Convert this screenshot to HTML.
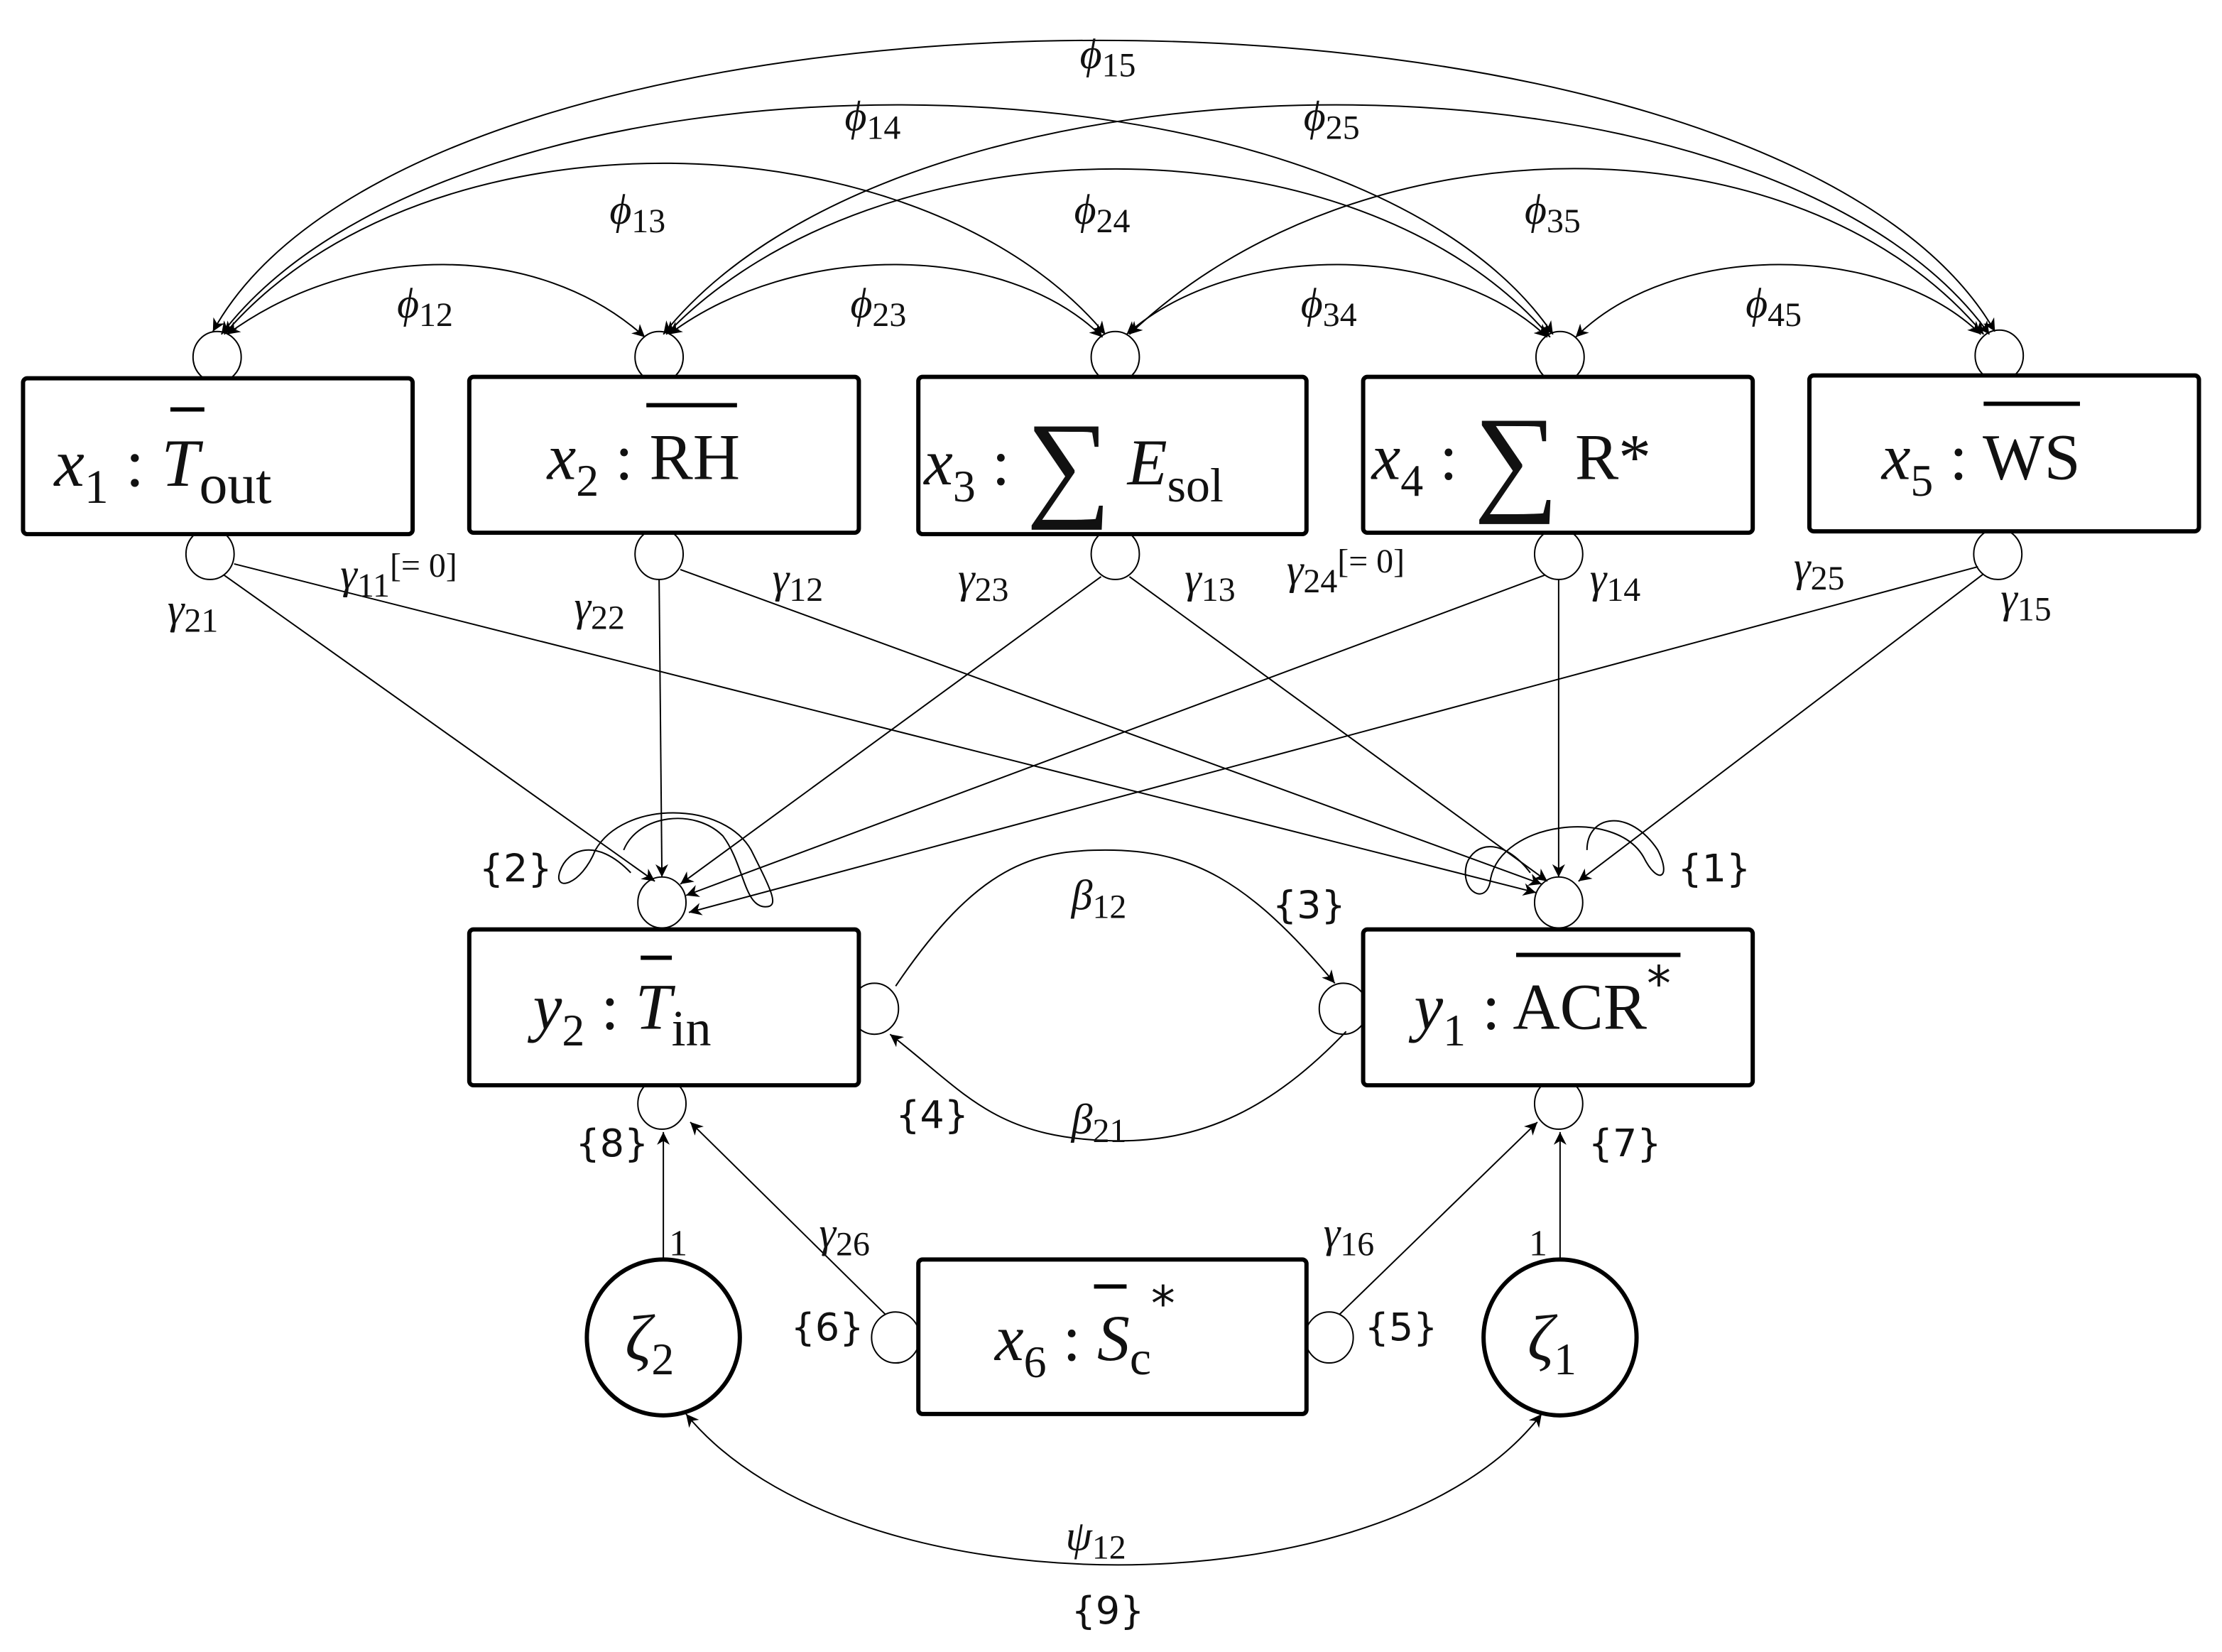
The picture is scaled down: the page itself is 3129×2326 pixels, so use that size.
<!DOCTYPE html>
<html><head><meta charset="utf-8"><style>
html,body{margin:0;padding:0;background:#fff}
svg{display:block}
text{font-family:"Liberation Serif",serif;fill:#111}
.it{font-style:italic}
.b{font-family:"DejaVu Sans","Liberation Sans",sans-serif}
</style></head><body>
<svg width="3129" height="2326" viewBox="0 0 1568 1166" xmlns="http://www.w3.org/2000/svg">
<defs>
<marker id="a" viewBox="0 0 10 10" refX="10" refY="5" markerWidth="9" markerHeight="9" markerUnits="userSpaceOnUse" orient="auto-start-reverse">
<path d="M0,0 L10,5 L0,10 L3,5 z" fill="#000"/></marker>
</defs>
<g fill="none" stroke="#000" stroke-width="1">
<path d="M160,236 C250,170 380,170 455,238" marker-start="url(#a)" marker-end="url(#a)"/>
<path d="M158,236 C300,70 650,80 780,236" marker-start="url(#a)" marker-end="url(#a)"/>
<path d="M156,236 C320,20 950,20 1096,236" marker-start="url(#a)" marker-end="url(#a)"/>
<path d="M150,234 C300,-40 1250,-40 1408,234" marker-start="url(#a)" marker-end="url(#a)"/>
<path d="M472,236 C560,170 710,170 778,238" marker-start="url(#a)" marker-end="url(#a)"/>
<path d="M470,236 C620,80 960,80 1094,238" marker-start="url(#a)" marker-end="url(#a)"/>
<path d="M468,236 C640,20 1250,20 1404,236" marker-start="url(#a)" marker-end="url(#a)"/>
<path d="M795,236 C870,170 1020,170 1092,238" marker-start="url(#a)" marker-end="url(#a)"/>
<path d="M797,236 C960,80 1270,80 1400,236" marker-start="url(#a)" marker-end="url(#a)"/>
<path d="M1112,238 C1180,170 1330,170 1398,236" marker-start="url(#a)" marker-end="url(#a)"/>
<line x1="158" y1="406" x2="462" y2="622" marker-end="url(#a)"/>
<line x1="165" y1="398" x2="1084" y2="630" marker-end="url(#a)"/>
<line x1="465" y1="409" x2="467" y2="619" marker-end="url(#a)"/>
<line x1="480" y1="402" x2="1088" y2="624" marker-end="url(#a)"/>
<line x1="777" y1="407" x2="480" y2="624" marker-end="url(#a)"/>
<line x1="797" y1="407" x2="1092" y2="622" marker-end="url(#a)"/>
<line x1="1090" y1="406" x2="484" y2="632" marker-end="url(#a)"/>
<line x1="1100" y1="409" x2="1100" y2="619" marker-end="url(#a)"/>
<line x1="1396" y1="400" x2="486" y2="644" marker-end="url(#a)"/>
<line x1="1400" y1="405" x2="1114" y2="622" marker-end="url(#a)"/>
<path d="M445,616 C420,590 400,600 395,615 C390,630 410,625 420,600 C440,565 510,565 530,600 C545,630 550,640 540,640 C525,640 525,610 510,590 C490,570 450,575 440,600"/>
<path d="M1080,616 C1060,590 1040,595 1035,610 C1030,630 1050,640 1052,620 C1060,580 1140,570 1160,605 C1170,625 1180,620 1170,600 C1150,570 1120,575 1120,600"/>
<path d="M632,696 C690,610 730,600 780,600 C840,600 880,620 942,694" marker-end="url(#a)"/>
<path d="M950,728 C900,780 850,808 780,805 C700,802 680,770 628,730" marker-end="url(#a)"/>
<line x1="468" y1="889" x2="468" y2="799" marker-end="url(#a)"/>
<line x1="1101" y1="889" x2="1101" y2="799" marker-end="url(#a)"/>
<line x1="625" y1="928" x2="487" y2="792" marker-end="url(#a)"/>
<line x1="945" y1="928" x2="1085" y2="792" marker-end="url(#a)"/>
<path d="M484,998 C600,1140 980,1140 1088,998" marker-start="url(#a)" marker-end="url(#a)"/>
<ellipse cx="153" cy="252" rx="17" ry="18"/><ellipse cx="465" cy="252" rx="17" ry="18"/>
<ellipse cx="787" cy="252" rx="17" ry="18"/><ellipse cx="1101" cy="252" rx="17" ry="18"/>
<ellipse cx="1411" cy="251" rx="17" ry="18"/>
<ellipse cx="148" cy="391" rx="17" ry="18"/><ellipse cx="465" cy="391" rx="17" ry="18"/>
<ellipse cx="787" cy="391" rx="17" ry="18"/><ellipse cx="1100" cy="391" rx="17" ry="18"/>
<ellipse cx="1410" cy="391" rx="17" ry="18"/>
<ellipse cx="467" cy="637" rx="17" ry="18"/><ellipse cx="1100" cy="637" rx="17" ry="18"/>
<ellipse cx="617" cy="712" rx="17" ry="18"/><ellipse cx="948" cy="712" rx="17" ry="18"/>
<ellipse cx="467" cy="779" rx="17" ry="18"/><ellipse cx="1100" cy="779" rx="17" ry="18"/>
<ellipse cx="632" cy="944" rx="17" ry="18"/><ellipse cx="938" cy="944" rx="17" ry="18"/>
</g>
<g fill="#fff" stroke="#000" stroke-width="3">
<rect x="16" y="267" width="275" height="110" rx="3"/>
<rect x="331" y="266" width="275" height="110" rx="3"/>
<rect x="648" y="266" width="274" height="111" rx="3"/>
<rect x="962" y="266" width="275" height="110" rx="3"/>
<rect x="1277" y="265" width="275" height="110" rx="3"/>
<rect x="331" y="656" width="275" height="110" rx="3"/>
<rect x="962" y="656" width="275" height="110" rx="3"/>
<rect x="648" y="889" width="274" height="109" rx="3"/>
<ellipse cx="468" cy="944" rx="54" ry="55"/>
<ellipse cx="1101" cy="944" rx="54" ry="55"/>
</g>
<g stroke="#000" stroke-width="3">
<line x1="120" y1="289" x2="144" y2="289"/>
<line x1="456" y1="286" x2="520" y2="286"/>
<line x1="1400" y1="285" x2="1468" y2="285"/>
<line x1="452" y1="676" x2="474" y2="676"/>
<line x1="1070" y1="674" x2="1186" y2="674"/>
<line x1="772" y1="908" x2="795" y2="908"/>
</g>
<text x="38" y="343" font-size="48"><tspan class="it">x</tspan><tspan font-size="34" dy="12">1</tspan><tspan dy="-12"> : </tspan><tspan class="it">T</tspan><tspan font-size="40" dy="12">out</tspan></text>
<text x="386" y="338" font-size="46"><tspan class="it">x</tspan><tspan font-size="32" dy="12">2</tspan><tspan dy="-12"> : RH</tspan></text>
<text x="652" y="342" font-size="46"><tspan class="it">x</tspan><tspan font-size="32" dy="12">3</tspan><tspan dy="-12"> : </tspan><tspan font-size="84" dy="14">∑</tspan><tspan class="it" dy="-14"> E</tspan><tspan font-size="34" dy="12">sol</tspan></text>
<text x="968" y="338" font-size="46"><tspan class="it">x</tspan><tspan font-size="32" dy="12">4</tspan><tspan dy="-12"> : </tspan><tspan font-size="84" dy="14">∑</tspan><tspan dy="-14"> R*</tspan></text>
<text x="1328" y="338" font-size="46"><tspan class="it">x</tspan><tspan font-size="32" dy="12">5</tspan><tspan dy="-12"> : WS</tspan></text>
<text x="376" y="726" font-size="46"><tspan class="it">y</tspan><tspan font-size="32" dy="12">2</tspan><tspan dy="-12"> : </tspan><tspan class="it">T</tspan><tspan font-size="36" dy="12">in</tspan></text>
<text x="998" y="726" font-size="46"><tspan class="it">y</tspan><tspan font-size="32" dy="12">1</tspan><tspan dy="-12"> : ACR</tspan><tspan class="b" font-size="34" dy="-20">*</tspan></text>
<text x="702" y="960" font-size="46"><tspan class="it">x</tspan><tspan font-size="32" dy="12">6</tspan><tspan dy="-12"> : </tspan><tspan class="it">S</tspan><tspan font-size="34" dy="10">c</tspan><tspan class="b" font-size="34" dy="-38">*</tspan></text>
<text x="441" y="960" font-size="46"><tspan class="it">ζ</tspan><tspan font-size="32" dy="10">2</tspan></text>
<text x="1078" y="960" font-size="46"><tspan class="it">ζ</tspan><tspan font-size="32" dy="10">1</tspan></text>
<g font-size="30">
<text x="762" y="48"><tspan class="it">ϕ</tspan><tspan font-size="24" dy="6">15</tspan></text>
<text x="596" y="92"><tspan class="it">ϕ</tspan><tspan font-size="24" dy="6">14</tspan></text>
<text x="920" y="92"><tspan class="it">ϕ</tspan><tspan font-size="24" dy="6">25</tspan></text>
<text x="430" y="158"><tspan class="it">ϕ</tspan><tspan font-size="24" dy="6">13</tspan></text>
<text x="758" y="158"><tspan class="it">ϕ</tspan><tspan font-size="24" dy="6">24</tspan></text>
<text x="1076" y="158"><tspan class="it">ϕ</tspan><tspan font-size="24" dy="6">35</tspan></text>
<text x="280" y="224"><tspan class="it">ϕ</tspan><tspan font-size="24" dy="6">12</tspan></text>
<text x="600" y="224"><tspan class="it">ϕ</tspan><tspan font-size="24" dy="6">23</tspan></text>
<text x="918" y="224"><tspan class="it">ϕ</tspan><tspan font-size="24" dy="6">34</tspan></text>
<text x="1232" y="224"><tspan class="it">ϕ</tspan><tspan font-size="24" dy="6">45</tspan></text>
<text x="118" y="440"><tspan class="it">γ</tspan><tspan font-size="24" dy="6">21</tspan></text>
<text x="240" y="415"><tspan class="it">γ</tspan><tspan font-size="24" dy="6">11</tspan><tspan font-size="24" dy="-14">[= 0]</tspan></text>
<text x="405" y="438"><tspan class="it">γ</tspan><tspan font-size="24" dy="6">22</tspan></text>
<text x="545" y="418"><tspan class="it">γ</tspan><tspan font-size="24" dy="6">12</tspan></text>
<text x="676" y="418"><tspan class="it">γ</tspan><tspan font-size="24" dy="6">23</tspan></text>
<text x="836" y="418"><tspan class="it">γ</tspan><tspan font-size="24" dy="6">13</tspan></text>
<text x="908" y="412"><tspan class="it">γ</tspan><tspan font-size="24" dy="6">24</tspan><tspan font-size="24" dy="-14">[= 0]</tspan></text>
<text x="1122" y="418"><tspan class="it">γ</tspan><tspan font-size="24" dy="6">14</tspan></text>
<text x="1266" y="410"><tspan class="it">γ</tspan><tspan font-size="24" dy="6">25</tspan></text>
<text x="1412" y="432"><tspan class="it">γ</tspan><tspan font-size="24" dy="6">15</tspan></text>
<text x="756" y="642"><tspan class="it">β</tspan><tspan font-size="24" dy="6">12</tspan></text>
<text x="756" y="800"><tspan class="it">β</tspan><tspan font-size="24" dy="6">21</tspan></text>
<text x="578" y="880"><tspan class="it">γ</tspan><tspan font-size="24" dy="6">26</tspan></text>
<text x="934" y="880"><tspan class="it">γ</tspan><tspan font-size="24" dy="6">16</tspan></text>
<text x="472" y="886" font-size="26">1</text>
<text x="1079" y="886" font-size="26">1</text>
<text x="752" y="1094"><tspan class="it">ψ</tspan><tspan font-size="24" dy="6">12</tspan></text>
</g>
<g class="b" font-size="27">
<text x="338" y="622" class="b">{2}</text>
<text x="1184" y="622" class="b">{1}</text>
<text x="898" y="648" class="b">{3}</text>
<text x="632" y="796" class="b">{4}</text>
<text x="406" y="816" class="b">{8}</text>
<text x="1121" y="816" class="b">{7}</text>
<text x="558" y="946" class="b">{6}</text>
<text x="963" y="946" class="b">{5}</text>
<text x="756" y="1146" class="b">{9}</text>
</g>
</svg>
</body></html>
